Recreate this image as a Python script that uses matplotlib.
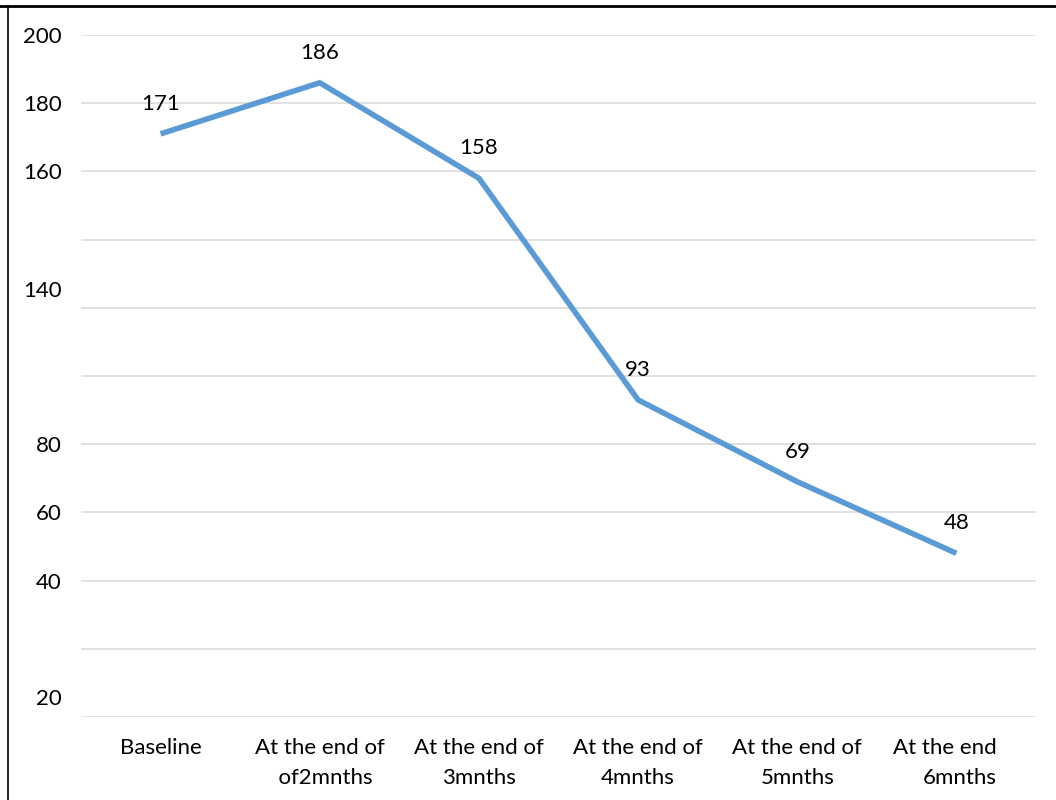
import matplotlib
matplotlib.use('Agg')
import matplotlib.pyplot as plt
import matplotlib.transforms as mtransforms
from matplotlib.lines import Line2D

plt.rcParams['font.family'] = ['Lato', 'DejaVu Sans']

categories = ['Baseline', 'At the end of\n  of2mnths', 'At the end of\n3mnths',
              'At the end of\n4mnths', 'At the end of\n5mnths', 'At the end\n6mnths']
values = [171, 186, 158, 93, 69, 48]

# axis labels as they appear on the left side (some sit off the gridlines)
ytick_pos = [200, 180, 160, 125.6, 80, 60, 40, 5.9]
ytick_labels = ['200', '180', '160', '140', '80', '60', '40', '20']
grid_pos = list(range(0, 201, 20))

fs = 16

fig = plt.figure(figsize=(10.56, 8), dpi=100)
ax = fig.add_axes([81 / 1056, 1 - 717 / 800, (1036 - 81) / 1056, (717 - 35) / 800])

x = list(range(len(categories)))
ax.plot(x, values, color='#5B9BD5', linewidth=4.0, solid_capstyle='butt', zorder=3)

for xi, v in zip(x, values):
    ax.annotate(str(v), (xi, v), xytext=(0, 21.6), textcoords='offset points',
                ha='center', va='center', fontsize=fs, color='black')

ax.set_xlim(-0.5, len(categories) - 0.5)
ax.set_ylim(0, 200)

for g in grid_pos:
    ax.axhline(g, color='#D9D9D9', linewidth=1.1, zorder=1)

ax.set_yticks(ytick_pos)
ax.set_yticklabels(ytick_labels)
ax.tick_params(axis='y', length=0, pad=14, labelsize=fs)

ax.set_xticks(x)
ax.set_xticklabels(categories, linespacing=1.65)
ax.tick_params(axis='x', length=0, pad=15, labelsize=fs)

# last label: second line flush right, block nudged left
last = ax.get_xticklabels()[-1]
last.set_multialignment('right')
last.set_transform(last.get_transform() + mtransforms.ScaledTranslation(-12 / 100, 0, fig.dpi_scale_trans))

for s in ax.spines.values():
    s.set_visible(False)

# frame lines along the top and left edges
fig.add_artist(Line2D([0, 1], [1 - 5.5 / 800, 1 - 5.5 / 800], color='black', linewidth=2,
                      transform=fig.transFigure))
fig.add_artist(Line2D([7.5 / 1056, 7.5 / 1056], [0, 1 - 5.5 / 800], color='black', linewidth=1.2,
                      transform=fig.transFigure))

fig.savefig('out.png', dpi=100)
